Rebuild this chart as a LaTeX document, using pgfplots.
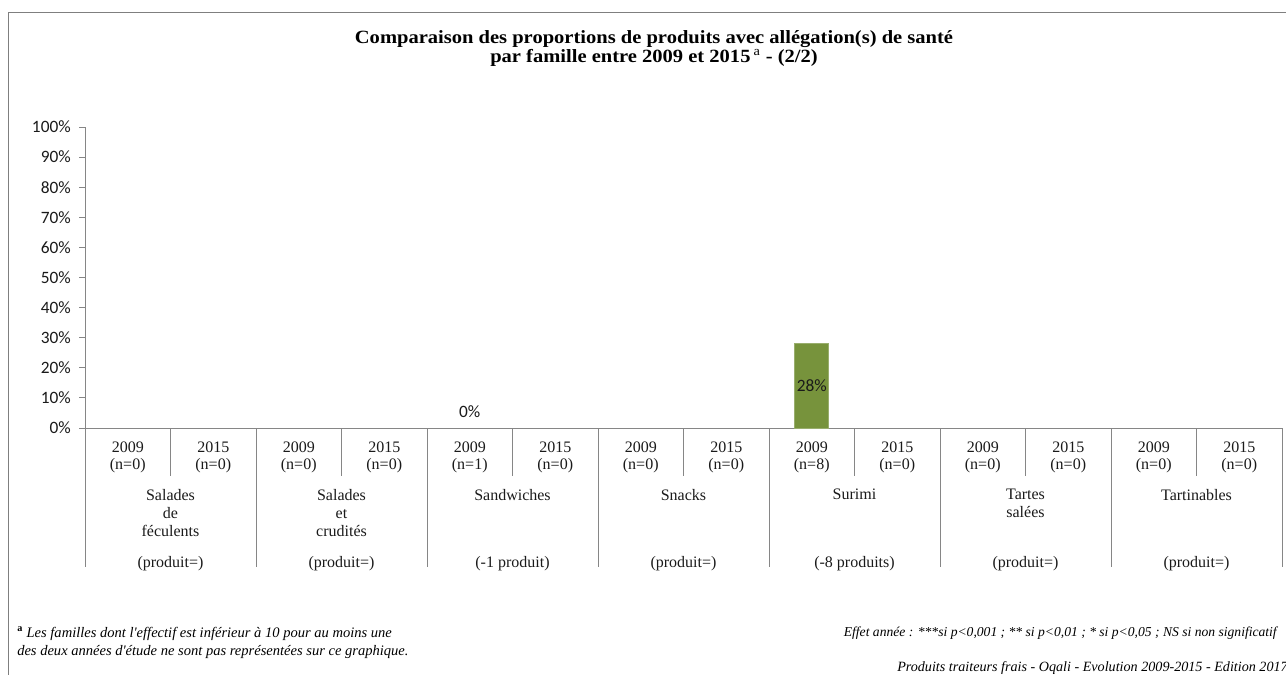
\documentclass[border=0pt]{standalone}
\usepackage{fontspec}
\setmainfont{Liberation Serif}[Ligatures=TeXOff]
\newfontfamily\titlefont{Liberation Serif}[FakeStretch=1.1, Ligatures=TeXOff]
\newfontfamily\carlito{Carlito}
\usepackage{pgfplots}
\pgfplotsset{compat=1.18}
\definecolor{bargreen}{HTML}{77933C}
\definecolor{axisgray}{HTML}{868686}
\definecolor{framegray}{HTML}{7F7F7F}
\definecolor{txt}{HTML}{1A1A1A}
\begin{document}
\begin{tikzpicture}
\useasboundingbox (0,0) rectangle (964.5pt,-506.25pt);
\begin{scope}[x=0.75pt,y=-0.75pt]
\draw[framegray, line width=1.1pt] (8.5,690) -- (8.5,12.5) -- (1295,12.5);
\node[font=\titlefont\fontsize{14}{14}\selectfont\bfseries, anchor=base, inner sep=0pt] at (654,43.3)
  {Comparaison des proportions de produits avec allégation(s) de santé};
\node[font=\titlefont\fontsize{14}{14}\selectfont\bfseries, anchor=base, inner sep=0pt] at (654,62)
  {par famille entre 2009 et 2015\,\textsuperscript{\mdseries a} - (2/2)};
\node[font=\fontsize{10.9}{12}\selectfont, anchor=base west, inner sep=0pt] at (17,637)
  {\textsuperscript{\textbf{a}} \textit{Les familles dont l'effectif est inférieur à 10 pour au moins une}};
\node[font=\fontsize{10.9}{12}\selectfont, anchor=base west, inner sep=0pt] at (17,655)
  {\textit{des deux années d'étude ne sont pas représentées sur ce graphique.}};
\node[font=\fontsize{10.2}{12}\selectfont\itshape, anchor=base east, inner sep=0pt] at (1277,636)
  {Effet année : ***si p<0,001 ; ** si p<0,01 ; * si p<0,05 ; NS si non significatif};
\node[font=\fontsize{10.6}{12}\selectfont\itshape, anchor=base east, inner sep=0pt] at (1288,671)
  {Produits traiteurs frais - Oqali - Evolution 2009-2015 - Edition 2017};
\end{scope}
\begin{axis}[
  at={(63.75pt,-321pt)}, anchor=origin,
  scale only axis, width=897.75pt, height=225.75pt,
  xmin=0, xmax=14, ymin=0, ymax=100,
  clip=false,
  /pgf/number format/assume math mode=true,
  axis x line=bottom, axis y line=left,
  axis line style={draw=axisgray, line width=0.75pt, -},
  ytick={0,10,...,100},
  yticklabel={\pgfmathprintnumber{\tick}\%},
  yticklabel style={font=\carlito\fontsize{13}{15}\selectfont, text=txt, inner sep=0pt, anchor=east, xshift=-6pt},
  tick align=outside, major tick length=4.5pt,
  y tick style={draw=axisgray, line width=0.75pt},
  x tick style={draw=none},
  xtick={0.5,1.5,...,13.5},
  xticklabels={{2009\\(n=0)},{2015\\(n=0)},{2009\\(n=0)},{2015\\(n=0)},{2009\\(n=1)},{2015\\(n=0)},{2009\\(n=0)},{2015\\(n=0)},{2009\\(n=8)},{2015\\(n=0)},{2009\\(n=0)},{2015\\(n=0)},{2009\\(n=0)},{2015\\(n=0)}},
  xticklabel style={align=center, anchor=north, inner sep=0pt, yshift=-6pt, text=txt, font=\fontsize{12}{12.4}\selectfont},
]
\addplot[ybar, bar width=25.5pt, fill=bargreen, draw=bargreen!75!white] coordinates {(8.5,28)};
\addplot[draw=none, mark=none, nodes near coords={\pgfmathprintnumber{\pgfplotspointmeta}\%},
  every node near coord/.style={font=\carlito\fontsize{13}{15}\selectfont, text=txt, anchor=south, inner sep=0pt, yshift=7.5pt}]
  coordinates {(4.5,0)};
\addplot[draw=none, mark=none, point meta=explicit, nodes near coords={\pgfmathprintnumber{\pgfplotspointmeta}\%},
  every node near coord/.style={font=\carlito\fontsize{13}{15}\selectfont, text=txt, anchor=center, inner sep=0pt}]
  coordinates {(8.5,14) [28]};
\pgfplotsinvokeforeach{0,2,...,14}{\draw[axisgray, line width=0.75pt] (axis cs:#1,0) -- ++(0pt,-104.25pt);}
\pgfplotsinvokeforeach{1,3,...,13}{\draw[axisgray, line width=0.75pt] (axis cs:#1,0) -- ++(0pt,-36pt);}
\tikzset{fam/.style={anchor=north, align=center, inner sep=0pt, text=txt, font=\fontsize{12}{13.5}\selectfont, yshift=-45.75pt},
         chg/.style={anchor=base, inner sep=0pt, text=txt, font=\fontsize{12}{13.5}\selectfont, yshift=-104.25pt}}
\node[fam] at (axis cs:1,0) {Salades\\de\\féculents};
\node[fam] at (axis cs:3,0) {Salades\\et\\crudités};
\node[fam] at (axis cs:5,0) {Sandwiches};
\node[fam] at (axis cs:7,0) {Snacks};
\node[fam] at (axis cs:9,0) {Surimi};
\node[fam] at (axis cs:11,0) {Tartes\\salées};
\node[fam] at (axis cs:13,0) {Tartinables};
\node[chg] at (axis cs:1,0) {(produit=)};
\node[chg] at (axis cs:3,0) {(produit=)};
\node[chg] at (axis cs:5,0) {(-1 produit)};
\node[chg] at (axis cs:7,0) {(produit=)};
\node[chg] at (axis cs:9,0) {(-8 produits)};
\node[chg] at (axis cs:11,0) {(produit=)};
\node[chg] at (axis cs:13,0) {(produit=)};
\end{axis}
\end{tikzpicture}
\end{document}
